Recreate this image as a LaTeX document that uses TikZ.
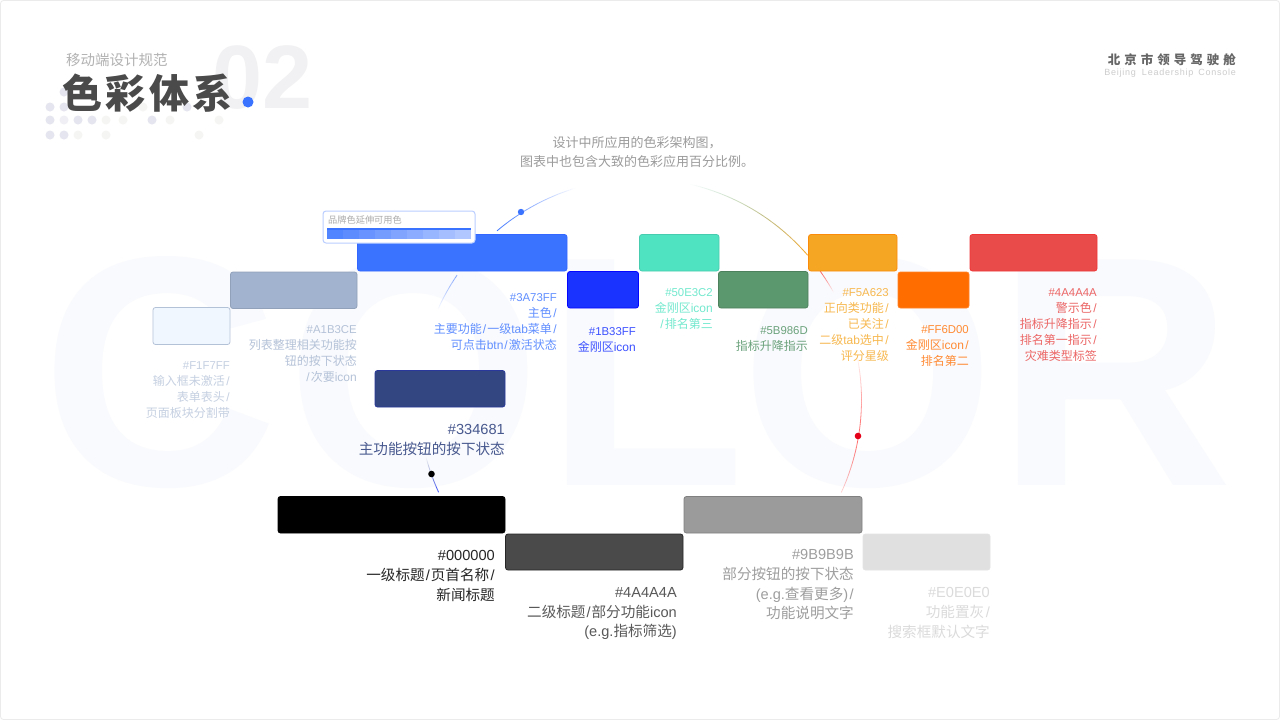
\documentclass[tikz,border=0pt]{standalone}
\usepackage{fontspec}
\setmainfont{Noto Sans CJK SC}
\newfontfamily\latinf{Liberation Sans}
\newcommand\E[1]{{\latinf #1}}
\newcommand\HX[1]{{\latinf\scalebox{0.95}{#1}}}
\newcommand\Sl{{\latinf\kern1pt/\kern1pt}}
\newcommand\SlE{{\latinf\kern1.5pt/}}
\newcommand\bigf[1]{\fontsize{#1}{#1}\selectfont}
\definecolor{cblue}{HTML}{3A73FF}
\definecolor{cgrayb}{HTML}{A1B3CE}
\definecolor{cpale}{HTML}{F1F7FF}
\definecolor{croyal}{HTML}{1B33FF}
\definecolor{cteal}{HTML}{50E3C2}
\definecolor{cgreen}{HTML}{5B986D}
\definecolor{camber}{HTML}{F5A623}
\definecolor{corange}{HTML}{FF6D00}
\definecolor{cred}{HTML}{E94B4B}
\definecolor{cnavy}{HTML}{334681}
\definecolor{cdark}{HTML}{4A4A4A}
\definecolor{cmid}{HTML}{9B9B9B}
\definecolor{clight}{HTML}{E0E0E0}
\definecolor{cbg}{HTML}{F9FAFD}
\definecolor{dota}{HTML}{E4E5EE}
\definecolor{dotb}{HTML}{F5F5F3}
\definecolor{numc}{HTML}{F1F1F3}
\tikzset{
  swatch/.style={rounded corners=2.5pt,line width=0.8pt},
  lab/.style={anchor=north east,inner sep=0pt,align=right,font=\fontsize{12}{16}\selectfont},
  labbig/.style={anchor=north east,inner sep=0pt,align=right,font=\fontsize{14.6}{19.6}\selectfont},
  bgletter/.style={anchor=base west,inner sep=0pt,text=cbg,font=\fontsize{328}{328}\latinf\bfseries}
}
% arc on the circle centred (640,400), r=221.5, faded between two ends
\newcommand\fadearc[7]{% t0 t1 col0 col1 op0 op1 width
  \foreach \i in {0,...,39}{
    \pgfmathsetmacro\ta{#1+(#2-#1)*\i/40}
    \pgfmathsetmacro\tb{#1+(#2-#1)*(\i+1)/40}
    \pgfmathsetmacro\mixp{100*(1-(\i+.5)/40)}
    \pgfmathsetmacro\opv{#5+(#6-#5)*(\i+.5)/40}
    \draw[color=#3!\mixp!#4,opacity=\opv,line width=#7]
      ({640+221.5*cos(\ta)},{400-221.5*sin(\ta)}) -- ({640+221.5*cos(\tb)},{400-221.5*sin(\tb)});
  }
}
\begin{document}
\begin{tikzpicture}[x=1pt,y=-1pt]
\useasboundingbox (0,0) rectangle (1280,720);
\fill[white] (0,0) rectangle (1280,720);
\draw[color=black!8,line width=0.8pt,rounded corners=3pt] (0.5,0.5) rectangle (1279.5,719.5);
% background word
\node[bgletter] (bgc) at (41,485.5) {C};
\node[bgletter] (bgo) at (286,485.5) {O};
\node[bgletter] (bgl) at (545,485.5) {L};
\node[bgletter] (bgp) at (740,485.5) {O};
\node[bgletter] (bgr) at (996,485.5) {R};
% title block
\node[anchor=center,inner sep=0pt,text=numc] (num) at (263,78) {\bigf{90}\latinf\bfseries 02};
\foreach \x/\y/\c in {64/92/dota,50/107/dota,64/107/dota,143/107/dotb,187/107/dota,
  50/120/dota,64/120/dota!60,78/120/dota,92/120/dota,106/120/dotb,123/120/dotb,152/120/dota,170/120/dotb,219/120/dotb,
  50/135/dota,64/135/dota,78/135/dotb,106/135/dotb,199/135/dotb}
  \fill[color=\c] (\x,\y) circle (4.5);
\node[anchor=west,inner sep=0pt,text=black!30] (sub) at (66,60) {\bigf{14.5}移动端设计规范};
\node[anchor=west,inner sep=0pt,text=cdark] (title) at (62,93) {\bigf{40}\bfseries 色\kern3.5pt 彩\kern3.5pt 体\kern3.5pt 系};
\fill[color=cblue] (248,102) circle (5.5);
% top right
\node[anchor=east,inner sep=0pt,text=black!60] (org) at (1236,60) {\bigf{12.5}\bfseries 北\kern4pt 京\kern4pt 市\kern4pt 领\kern4pt 导\kern4pt 驾\kern4pt 驶\kern4pt 舱};
\node[anchor=east,inner sep=0pt,text=black!20] (orgen) at (1236,73) {\bigf{9}\latinf B\kern.75pt e\kern.75pt i\kern.75pt j\kern.75pt i\kern.75pt n\kern.75pt g\kern6pt L\kern.75pt e\kern.75pt a\kern.75pt d\kern.75pt e\kern.75pt r\kern.75pt s\kern.75pt h\kern.75pt i\kern.75pt p\kern5pt C\kern.75pt o\kern.75pt n\kern.75pt s\kern.75pt o\kern.75pt l\kern.75pt e};
% intro
\node[anchor=center,inner sep=0pt,text=cmid,align=center,font=\fontsize{13}{19}\selectfont] (intro) at (637,152.5) {设计中所应用的色彩架构图，\\图表中也包含大致的色彩应用百分比例。};
% arcs
\fadearc{130.2}{107}{cblue}{cblue}{1}{0}{0.8pt}
\fadearc{145.7}{156}{cblue}{cblue}{0.6}{0}{0.8pt}
\fadearc{194.9}{204.6}{cnavy}{croyal}{0}{0.9}{0.8pt}
\fadearc{77}{55}{cteal}{camber!50!cgreen}{0}{0.7}{0.8pt}
\fadearc{55}{40.8}{camber!50!cgreen}{camber}{0.7}{1}{0.8pt}
\fadearc{35.6}{29}{red}{red}{0.6}{0}{0.8pt}
\fadearc{10.5}{-9.4}{red}{red}{0.05}{0.6}{0.8pt}
\fadearc{-9.4}{-24.7}{red}{red}{0.6}{0.15}{0.8pt}
\fill[color=cblue] (521,212) circle (3.2);
\fill[color=black] (431.5,474) circle (3.3);
\fill[color=red!90!blue] (858,436) circle (3.3);
% swatches
\draw[swatch,fill=cblue,draw=cblue!90!blue] (357.5,234.5) rectangle (567,271);
\draw[swatch,fill=cgrayb,draw=cgrayb!90!black] (230.5,272) rectangle (357,308.5);
\draw[swatch,fill=cpale,draw=cgrayb!80] (153,307.5) rectangle (230,344.5);
\draw[swatch,fill=croyal,draw=blue!90!croyal] (567.5,271.5) rectangle (638.5,308);
\draw[swatch,fill=cteal,draw=cteal!90!black] (639.5,234.5) rectangle (719,271);
\draw[swatch,fill=cgreen,draw=cgreen!85!black] (718.5,271.5) rectangle (808,308);
\draw[swatch,fill=camber,draw=orange!70!camber] (808.5,234.5) rectangle (897,271);
\draw[swatch,fill=corange,draw=corange!85!white] (898,272) rectangle (969,308);
\draw[swatch,fill=cred,draw=red!30!cred] (970,234.5) rectangle (1097,271);
\draw[swatch,fill=cnavy,draw=cnavy!80!blue] (375,370.5) rectangle (505,407);
\draw[swatch,fill=black,draw=black] (278,496.5) rectangle (505,533);
\draw[swatch,fill=cdark,draw=black!85] (505.5,534) rectangle (683,570);
\draw[swatch,fill=cmid,draw=black!50] (684,496.5) rectangle (862,533);
\draw[swatch,fill=clight,draw=black!11] (863,534) rectangle (990,570);
% callout
\node[draw=cblue!35,fill=white,line width=1pt,rounded corners=3pt,minimum width=152pt,minimum height=32pt,inner sep=0pt] (callout) at (399,227) {};
\node[anchor=west,inner sep=0pt,text=black!33] (calltext) at (328,220) {\bigf{9.2}品牌色延伸可用色};
\foreach \i in {0,...,8}{
  \pgfmathsetmacro\ov{0.88-\i*0.06}
  \fill[color=cblue,opacity=\ov] ({327+\i*16},229) rectangle ({327+(\i+1)*16},239);
}
\fill[color=cblue] (327,228) rectangle (471,230);
% labels
\node[lab,text=cgrayb!62] (l1) at (230,361) {\HX{\#F1F7FF}\\输入框未激活\SlE\\表单表头\SlE\\页面板块分割带};
\node[lab,text=cgrayb!80] (l2) at (357,325) {\HX{\#A1B3CE}\\列表整理相关功能按\\钮的按下状态\\\Sl 次要\E{icon}};
\node[lab,text=cblue!80] (l3) at (557,293) {\HX{\#3A73FF}\\主色\SlE\\主要功能\Sl 一级\E{tab}菜单\SlE\\可点击\E{btn}\Sl 激活状态};
\node[lab,text=croyal!85] (l4) at (636,327) {\HX{\#1B33FF}\\金刚区\E{icon}};
\node[lab,text=cteal!80] (l5) at (713,288) {\HX{\#50E3C2}\\金刚区\E{icon}\\\Sl 排名第三};
\node[lab,text=cgreen!90] (l6) at (808,326) {\HX{\#5B986D}\\指标升降指示};
\node[lab,text=camber!80] (l7) at (889,288) {\HX{\#F5A623}\\正向类功能\SlE\\已关注\SlE\\二级\E{tab}选中\SlE\\评分星级};
\node[lab,text=corange!80] (l8) at (969,325) {\HX{\#FF6D00}\\金刚区\E{icon}\SlE\\排名第二};
\node[lab,text=cred!85] (l9) at (1097,288) {\HX{\#4A4A4A}\\警示色\SlE\\指标升降指示\SlE\\排名第一指示\SlE\\灾难类型标签};
\node[labbig,text=cnavy!90] (l10) at (505,424.5) {\E{\#334681}\\主功能按钮的按下状态};
\node[labbig,text=black!85] (l11) at (495,550.5) {\E{\#000000}\\一级标题\Sl 页首名称\SlE\\新闻标题};
\node[labbig,text=black!65] (l12) at (677,587.5) {\E{\#4A4A4A}\\二级标题\Sl 部分功能\E{icon}\\\E{(e.g.}指标筛选\E{)}};
\node[labbig,text=black!38] (l13) at (854,549.5) {\E{\#9B9B9B}\\部分按钮的按下状态\\\E{(e.g.}查看更多\E{)}\SlE\\功能说明文字};
\node[labbig,text=black!14] (l14) at (990,587.5) {\E{\#E0E0E0}\\功能置灰\SlE\\搜索框默认文字};
\end{tikzpicture}
\end{document}
